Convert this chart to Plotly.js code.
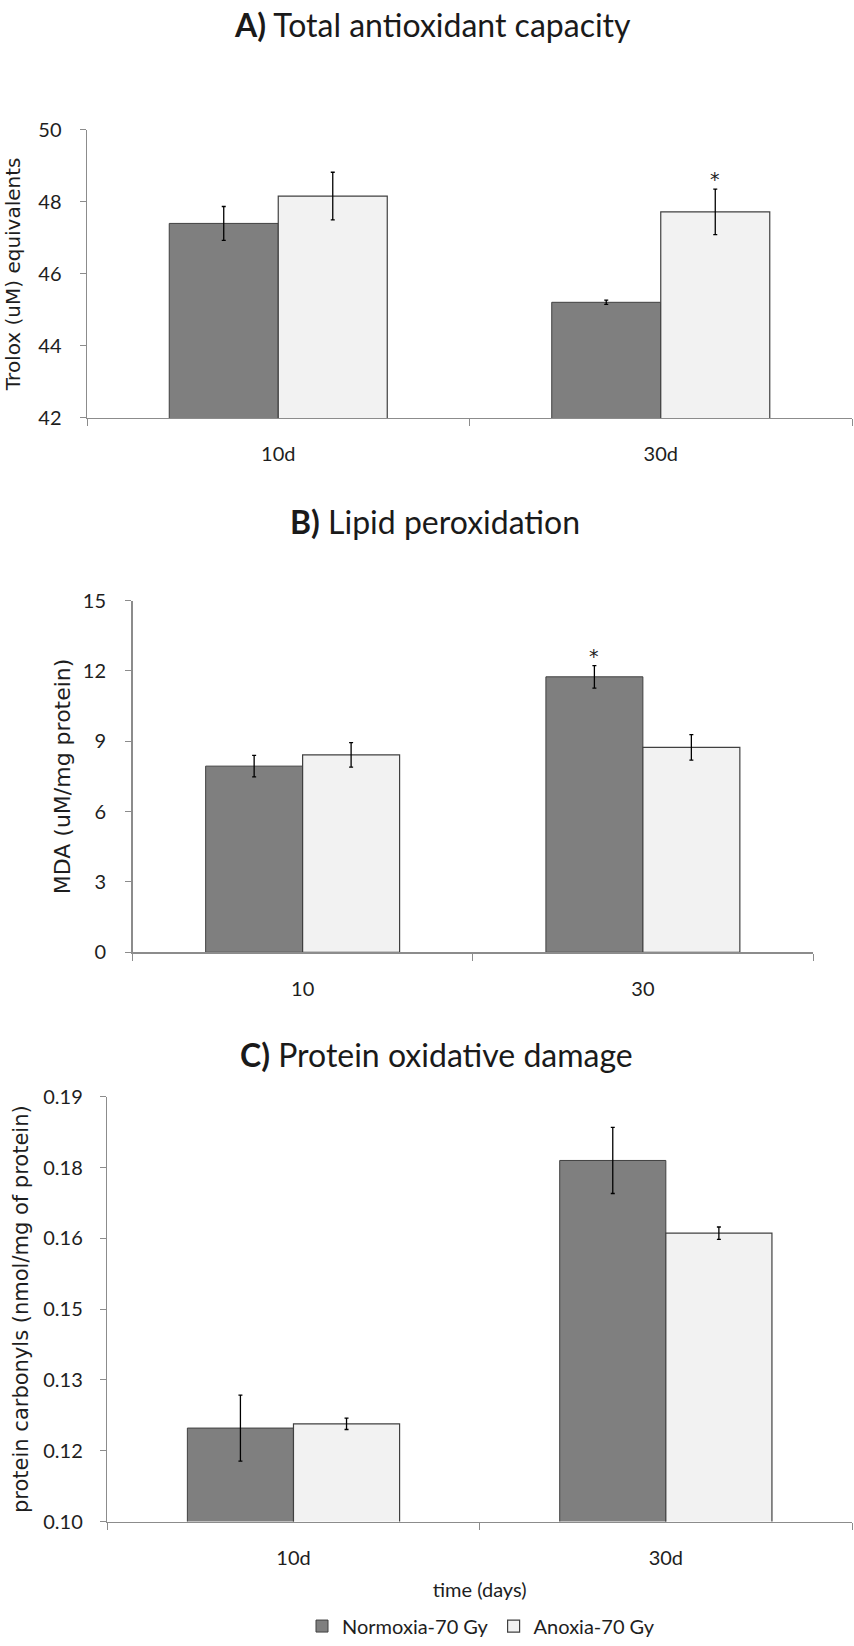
<!DOCTYPE html>
<html>
<head>
<meta charset="utf-8">
<script src="https://cdn.plot.ly/plotly-3.0.1.min.js"></script>
<style>html,body{margin:0;padding:0;background:#fff}#chart{width:854px;height:1646px}</style>
</head>
<body>
<div id="chart"></div>
<script>
// ---------- data ----------
const seriesNames = ['Normoxia-70 Gy', 'Anoxia-70 Gy'];

// A) Total antioxidant capacity
const catsA = ['10d', '30d'];
const normA = [47.40, 45.21];
const normAErr = [0.47, 0.06];
const anoxA = [48.16, 47.72];
const anoxAErr = [0.66, 0.63];
const sigNormA = ['', ''];
const sigAnoxA = ['', '*'];

// B) Lipid peroxidation
const catsB = ['10', '30'];
const normB = [7.94, 11.75];
const normBErr = [0.46, 0.48];
const anoxB = [8.42, 8.74];
const anoxBErr = [0.52, 0.54];
const sigNormB = ['', '*'];
const sigAnoxB = ['', ''];

// C) Protein oxidative damage
const catsC = ['10d', '30d'];
const normC = [0.1198, 0.1765];
const normCErr = [0.0070, 0.0070];
const anoxC = [0.1207, 0.1611];
const anoxCErr = [0.0012, 0.0013];
const sigNormC = ['', ''];
const sigAnoxC = ['', ''];
const cTickVals = [0.100, 0.115, 0.130, 0.145, 0.160, 0.175, 0.190];
const cTickText = ['0.10', '0.12', '0.13', '0.15', '0.16', '0.18', '0.19'];

const titles = ['<b>A)</b> Total antioxidant capacity', '<b>B)</b> Lipid peroxidation', '<b>C)</b> Protein oxidative damage'];
const yTitles = ['Trolox (uM) equivalents', 'MDA (uM/mg protein)', 'protein carbonyls (nmol/mg of protein)'];
const xTitleC = 'time (days)';

// ---------- styling ----------
const W = 854, H = 1646;
const DARK = '#7f7f7f', LIGHT = '#f2f2f2', EDGE = '#404040', AXIS = '#8c8c8c';
const tickFont = {family: 'Lato, sans-serif', size: 20, color: '#1e1e1e'};
const yTitleFont = {family: 'DejaVu Sans, sans-serif', size: 20, color: '#1e1e1e'};
const BARGAP = 0.43;

const panels = [
  {cats: catsA, n: normA, ne: normAErr, a: anoxA, ae: anoxAErr, sn: sigNormA, sa: sigAnoxA,
   xd: [87, 852], yd: [130.7, 421], titleY: 25, titleX: 432, ytSize: 20, ytStand: 12, tkStand: 14, tkSize: 20},
  {cats: catsB, n: normB, ne: normBErr, a: anoxB, ae: anoxBErr, sn: sigNormB, sa: sigAnoxB,
   xd: [132.5, 813], yd: [605, 959.3], titleY: 525, titleX: 435, ytSize: 22, ytStand: 6, tkStand: 15, tkSize: 20},
  {cats: catsC, n: normC, ne: normCErr, a: anoxC, ae: anoxCErr, sn: sigNormC, sa: sigAnoxC,
   xd: [107.3, 852], yd: [1104.8, 1532.7], titleY: 1062, titleX: 436, ytSize: 21, ytStand: 9, tkStand: 13, tkSize: 20}
];

const data = [];
const annotations = [];
const layout = {
  width: W, height: H,
  margin: {l: 0, r: 0, t: 0, b: 0},
  paper_bgcolor: '#fff', plot_bgcolor: '#fff',
  barmode: 'group', bargap: BARGAP, bargroupgap: 0,
  showlegend: true,
  legend: {orientation: 'h', x: 481 / W, xanchor: 'center', y: 1 - 1638 / H, yanchor: 'middle',
           font: {family: 'Lato, sans-serif', size: 20, color: '#1e1e1e'}, itemwidth: 30,
           tracegroupgap: 0, traceorder: 'normal'},
  annotations: annotations
};

panels.forEach((p, i) => {
  const sx = i === 0 ? '' : String(i + 1);
  const xa = 'x' + sx, ya = 'y' + sx;
  data.push({
    type: 'bar', name: seriesNames[0], x: p.cats, y: p.n, xaxis: xa, yaxis: ya,
    marker: {color: DARK, line: {color: EDGE, width: 1}},
    error_y: {type: 'data', array: p.ne, visible: true, color: '#000', thickness: 1.3, width: 2},
    legendgroup: 'n', showlegend: i === 2, hoverinfo: 'skip'
  });
  data.push({
    type: 'bar', name: seriesNames[1], x: p.cats, y: p.a, xaxis: xa, yaxis: ya,
    marker: {color: LIGHT, line: {color: EDGE, width: 1.2}},
    error_y: {type: 'data', array: p.ae, visible: true, color: '#000', thickness: 1.3, width: 2},
    legendgroup: 'a', showlegend: i === 2, hoverinfo: 'skip'
  });

  const xDom = [p.xd[0] / W, p.xd[1] / W];
  const yDom = [1 - p.yd[1] / H, 1 - p.yd[0] / H];
  layout['xaxis' + sx] = {
    domain: xDom, anchor: ya, type: 'category', range: [-0.5, p.cats.length - 0.5],
    showline: true, linecolor: AXIS, linewidth: 1.5,
    ticks: 'outside', tickson: 'boundaries', ticklen: 7, tickcolor: AXIS, tickwidth: 1,
    tickfont: Object.assign({}, tickFont, {size: p.tkSize}), showgrid: false, zeroline: false,
    ticklabelstandoff: 18, fixedrange: true
  };
  const yax = {
    domain: yDom, anchor: xa,
    showline: true, linecolor: AXIS, linewidth: 1.5,
    ticks: 'outside', ticklen: 6, tickcolor: AXIS, tickwidth: 1,
    tickfont: Object.assign({}, tickFont, {size: p.tkSize}), showgrid: false, zeroline: false,
    ticklabelstandoff: p.tkStand,
    title: {text: yTitles[i], font: Object.assign({}, yTitleFont, {size: p.ytSize}), standoff: p.ytStand},
    fixedrange: true
  };
  if (i === 0) { yax.range = [42, 50]; yax.dtick = 2; yax.tick0 = 42; }
  if (i === 1) { yax.range = [0, 15]; yax.dtick = 3; yax.tick0 = 0; }
  if (i === 2) {
    yax.range = [0.1, 0.19]; yax.tickmode = 'array'; yax.tickvals = cTickVals; yax.ticktext = cTickText;
    layout['xaxis' + sx].title = {text: xTitleC, font: {family: 'Lato, sans-serif', size: 20, color: '#1e1e1e'}, standoff: 15};
  }
  layout['yaxis' + sx] = yax;

  // panel title
  annotations.push({
    text: titles[i], xref: 'paper', yref: 'paper', x: p.titleX / W, y: 1 - p.titleY / H,
    xanchor: 'center', yanchor: 'middle', showarrow: false,
    font: {family: 'Lato, sans-serif', size: 32, color: '#1a1a1a'}
  });

  // significance asterisks, placed over each bar of the group (x given as category index)
  const catPx = (p.xd[1] - p.xd[0]) / p.cats.length;
  const barPx = catPx * (1 - BARGAP) / 2;
  p.cats.forEach((c, j) => {
    [[p.sn, p.n, p.ne, -1], [p.sa, p.a, p.ae, 1]].forEach(([sig, v, e, side]) => {
      if (sig[j]) annotations.push({
        text: sig[j], xref: xa, yref: ya, x: j, y: v[j] + e[j],
        xshift: side * barPx / 2, yshift: 10, xanchor: 'center', yanchor: 'middle', showarrow: false,
        font: {family: 'DejaVu Sans, sans-serif', size: 19, color: '#1e1e1e'}
      });
    });
  });
});

Plotly.newPlot('chart', data, layout, {displayModeBar: false, staticPlot: true});
</script>
</body>
</html>
